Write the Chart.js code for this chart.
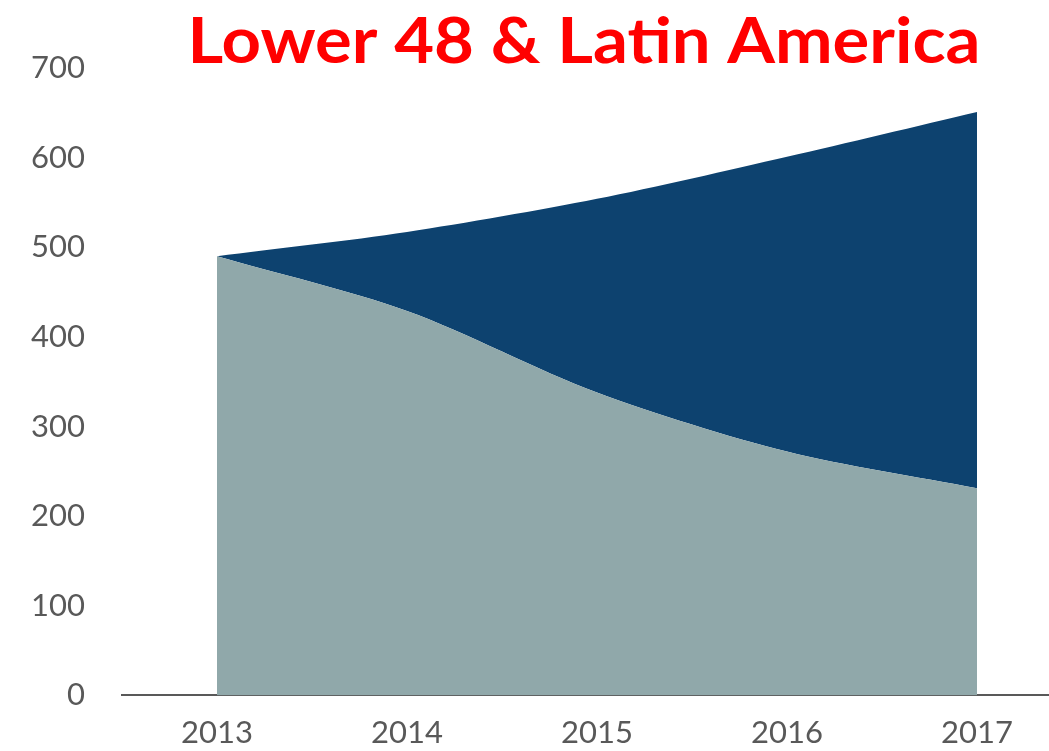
<!DOCTYPE html>
<html><head><meta charset="utf-8">
<script src="https://cdn.jsdelivr.net/npm/chart.js@4/dist/chart.umd.min.js"></script>
<style>
html,body{margin:0;padding:0;background:#fff;overflow:hidden;width:1049px;height:751px}
#wrap{position:relative;width:1080px;height:751px}
</style></head>
<body><div id="wrap"><canvas id="c"></canvas></div>
<script>
const chartTitle = 'Lower 48 & Latin America';
const years = ['2013', '2014', '2015', '2016', '2017'];
const baseSeries = [490, 429, 338, 272, 231];
const growthSeries = [0, 88, 216, 329, 420];
const yMin = 0, yMax = 700, yStep = 100;

const greyFill = '#90A8AA';
const navyFill = '#0D426F';
const textGrey = '#595959';

const titlePlugin = {
  id: 'titleAt',
  afterDraw(chart) {
    const ctx = chart.ctx;
    ctx.save();
    ctx.font = 'bold 64px Lato';
    ctx.fillStyle = '#FF0000';
    ctx.textAlign = 'center';
    ctx.textBaseline = 'alphabetic';
    ctx.translate(584, 63);
    ctx.scale(1.075, 1);
    ctx.fillText(chartTitle, 0, 0);
    ctx.restore();
  }
};

new Chart(document.getElementById('c'), {
  type: 'line',
  data: {
    labels: years,
    datasets: [
      { label: 'Base', data: baseSeries, backgroundColor: greyFill, borderWidth: 0, pointRadius: 0, fill: 'origin', tension: 0.3 },
      { label: 'Growth', data: growthSeries, backgroundColor: navyFill, borderWidth: 0, pointRadius: 0, fill: '-1', tension: 0.3 }
    ]
  },
  options: {
    responsive: true,
    maintainAspectRatio: false,
    animation: false,
    layout: { padding: { top: 68, right: 8, left: 0, bottom: 0 } },
    plugins: { legend: { display: false }, title: { display: false }, tooltip: { enabled: false } },
    scales: {
      x: {
        z: 1,
        offset: true,
        grid: { display: false, drawTicks: false },
        border: { display: true, color: textGrey, width: 2 },
        ticks: { color: textGrey, font: { family: 'Lato', size: 31 }, padding: 19 },
        afterFit(s) { s.height = 53; }
      },
      y: {
        stacked: true,
        min: yMin, max: yMax,
        grid: { display: false, drawTicks: false },
        border: { display: false },
        ticks: { stepSize: yStep, color: textGrey, font: { family: 'Lato', size: 31 }, padding: 37 },
        afterFit(s) { s.width = 122; }
      }
    }
  },
  plugins: [titlePlugin]
});
</script>
</body></html>
